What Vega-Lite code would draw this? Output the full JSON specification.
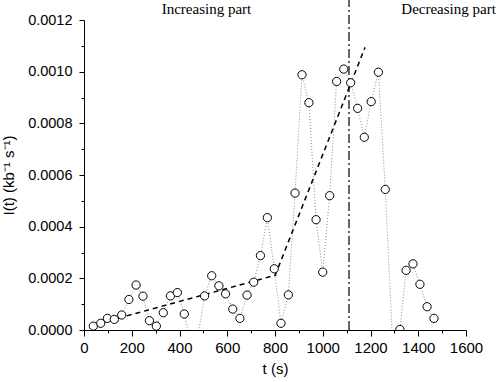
{
  "$schema": "https://vega.github.io/schema/vega-lite/v6.json",
  "width": 382,
  "height": 310,
  "autosize": {"type": "none"},
  "padding": {"left": 84, "top": 20, "right": 32, "bottom": 52},
  "background": "white",
  "config": {
    "view": {"stroke": null},
    "axis": {
      "labelFont": "Liberation Sans",
      "labelFontSize": 14.5,
      "labelColor": "black",
      "titleFont": "Liberation Sans",
      "titleFontSize": 15,
      "titleFontWeight": "normal",
      "titleColor": "black",
      "domainColor": "black",
      "tickColor": "black",
      "grid": false,
      "domainWidth": 1,
      "tickWidth": 1
    }
  },
  "datasets": {
    "obs": [
      {"t": 39, "I": 0.000015}, {"t": 70, "I": 0.000026}, {"t": 98, "I": 0.000045},
      {"t": 127, "I": 0.000041}, {"t": 158, "I": 0.000058}, {"t": 188, "I": 0.000118},
      {"t": 218, "I": 0.000174}, {"t": 247, "I": 0.000131}, {"t": 274, "I": 0.000036},
      {"t": 303, "I": 0.000015}, {"t": 332, "I": 0.000067}, {"t": 362, "I": 0.000132},
      {"t": 391, "I": 0.000145}, {"t": 420, "I": 0.000062}, {"t": 462, "I": -0.00011},
      {"t": 505, "I": 0.000132}, {"t": 535, "I": 0.00021}, {"t": 565, "I": 0.000171},
      {"t": 593, "I": 0.00014}, {"t": 623, "I": 0.000081}, {"t": 653, "I": 0.000045},
      {"t": 683, "I": 0.000135}, {"t": 711, "I": 0.000185}, {"t": 739, "I": 0.000288},
      {"t": 768, "I": 0.000435}, {"t": 797, "I": 0.000237}, {"t": 825, "I": 0.000026},
      {"t": 856, "I": 0.000136}, {"t": 884, "I": 0.00053}, {"t": 913, "I": 0.000988},
      {"t": 942, "I": 0.00088}, {"t": 972, "I": 0.000427}, {"t": 1000, "I": 0.000224},
      {"t": 1029, "I": 0.00052}, {"t": 1058, "I": 0.000962}, {"t": 1088, "I": 0.00101},
      {"t": 1117, "I": 0.000957}, {"t": 1146, "I": 0.000858}, {"t": 1174, "I": 0.000746},
      {"t": 1203, "I": 0.000884}, {"t": 1233, "I": 0.000998}, {"t": 1262, "I": 0.000544},
      {"t": 1295, "I": -0.0001}, {"t": 1323, "I": 0.000002}, {"t": 1349, "I": 0.000231},
      {"t": 1378, "I": 0.000256}, {"t": 1407, "I": 0.000177}, {"t": 1437, "I": 0.00009},
      {"t": 1466, "I": 0.000045}
    ],
    "fit": [
      {"seg": "a", "t": 70, "I": 0.000027},
      {"seg": "a", "t": 805, "I": 0.000213},
      {"seg": "b", "t": 800, "I": 0.00021},
      {"seg": "b", "t": 1177, "I": 0.001094}
    ],
    "marker": [{"t": 1110, "lo": 0, "hi": 0.00128}],
    "notes": [
      {"label": "Increasing part", "t": 513, "I": 0.001222},
      {"label": "Decreasing part", "t": 1527, "I": 0.001222}
    ]
  },
  "resolve": {"axis": {"x": "independent", "y": "independent"}},
  "layer": [
    {
      "data": {"name": "obs"},
      "mark": {"type": "line", "clip": true, "color": "#8c8c8c", "strokeWidth": 1, "strokeDash": [1, 2]},
      "encoding": {
        "x": {"field": "t", "type": "quantitative",
          "scale": {"domain": [0, 1600], "nice": false, "zero": false},
          "axis": {"orient": "bottom", "values": [100, 300, 500, 700, 900, 1100, 1300, 1500], "labels": false, "domain": false, "tickSize": 3, "title": null}},
        "y": {"field": "I", "type": "quantitative",
          "scale": {"domain": [0, 0.0012], "nice": false, "zero": false},
          "axis": {"orient": "left", "values": [0.0001, 0.0003, 0.0005, 0.0007, 0.0009, 0.0011], "labels": false, "domain": false, "tickSize": 3, "title": null}}
      }
    },
    {
      "data": {"name": "fit"},
      "mark": {"type": "line", "clip": true, "color": "black", "strokeWidth": 1.5, "strokeDash": [5, 4]},
      "encoding": {
        "x": {"field": "t", "type": "quantitative", "axis": null},
        "y": {"field": "I", "type": "quantitative", "axis": null},
        "detail": {"field": "seg"}
      }
    },
    {
      "data": {"name": "marker"},
      "mark": {"type": "rule", "color": "black", "strokeWidth": 1.2, "strokeDash": [9, 3, 2, 3]},
      "encoding": {
        "x": {"field": "t", "type": "quantitative", "axis": null},
        "y": {"field": "lo", "type": "quantitative", "axis": null},
        "y2": {"field": "hi"}
      }
    },
    {
      "data": {"name": "obs"},
      "mark": {"type": "point", "shape": "circle", "size": 68, "clip": true, "fill": "white", "stroke": "black", "strokeWidth": 1, "opacity": 1, "fillOpacity": 1},
      "encoding": {
        "x": {"field": "t", "type": "quantitative",
          "axis": {"orient": "bottom", "title": "t (s)", "format": "d", "values": [0, 200, 400, 600, 800, 1000, 1200, 1400, 1600], "labelFontSize": 15, "labelFlush": false, "labelOverlap": false, "tickSize": 6, "labelPadding": 4, "titlePadding": 6}},
        "y": {"field": "I", "type": "quantitative",
          "axis": {"orient": "left", "title": "I(t) (kb⁻¹ s⁻¹)", "values": [0, 0.0002, 0.0004, 0.0006, 0.0008, 0.001, 0.0012], "format": ".4f", "labelOverlap": false, "tickSize": 5, "labelPadding": 7, "titlePadding": 11}}
      }
    },
    {
      "data": {"name": "notes"},
      "mark": {"type": "text", "font": "Liberation Serif", "fontSize": 15, "align": "center", "baseline": "alphabetic", "color": "black"},
      "encoding": {
        "x": {"field": "t", "type": "quantitative", "axis": null},
        "y": {"field": "I", "type": "quantitative", "axis": null},
        "text": {"field": "label"}
      }
    }
  ]
}
